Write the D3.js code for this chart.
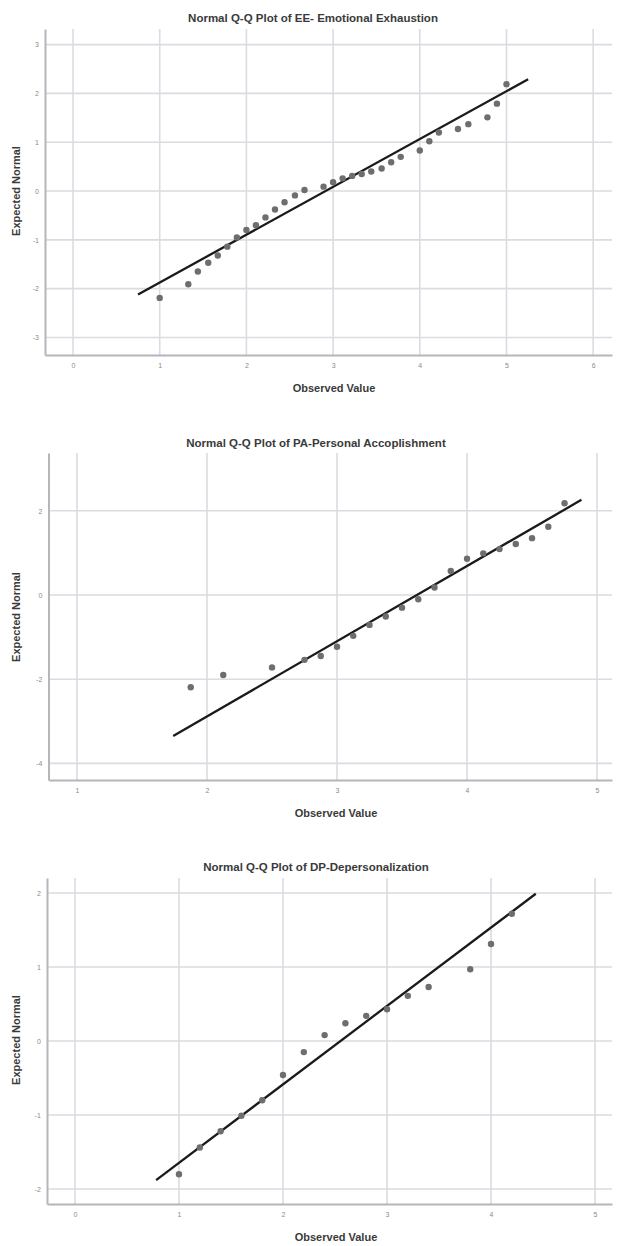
<!DOCTYPE html>
<html>
<head>
<meta charset="utf-8">
<script src="https://cdn.jsdelivr.net/npm/d3@7"></script>
<style>
  html, body { margin: 0; padding: 0; background: #ffffff; }
  svg { display: block; }
</style>
</head>
<body>
<svg id="chart" width="618" height="1246"></svg>
<script>
// ---------- DATA ----------
const titles = [
  "Normal Q-Q Plot of EE- Emotional Exhaustion",
  "Normal Q-Q Plot of PA-Personal Accoplishment",
  "Normal Q-Q Plot of DP-Depersonalization"
];
const xAxisTitle = "Observed Value";
const yAxisTitle = "Expected Normal";

// EE - Emotional Exhaustion
const eeObserved = [1.00, 1.33, 1.44, 1.56, 1.67, 1.78, 1.89, 2.00, 2.11, 2.22, 2.33, 2.44, 2.56, 2.67,
                    2.89, 3.00, 3.11, 3.22, 3.33, 3.44, 3.56, 3.67, 3.78, 4.00, 4.11, 4.22, 4.44, 4.56,
                    4.78, 4.89, 5.00];
const eeExpected = [-2.19, -1.91, -1.65, -1.47, -1.32, -1.14, -0.95, -0.80, -0.70, -0.54, -0.38, -0.23, -0.09, 0.02,
                    0.09, 0.18, 0.26, 0.31, 0.35, 0.40, 0.46, 0.59, 0.70, 0.83, 1.02, 1.20, 1.27, 1.37,
                    1.51, 1.79, 2.19];
const eeLineX = [0.75, 5.25];
const eeLineY = [-2.12, 2.29];
const eeXTicks = [0, 1, 2, 3, 4, 5, 6];
const eeYTicks = [-3, -2, -1, 0, 1, 2, 3];

// PA - Personal Accomplishment
const paObserved = [1.875, 2.125, 2.5, 2.75, 2.875, 3.0, 3.125, 3.25, 3.375, 3.5, 3.625, 3.75, 3.875, 4.0,
                    4.125, 4.25, 4.375, 4.5, 4.625, 4.75];
const paExpected = [-2.19, -1.90, -1.72, -1.54, -1.45, -1.23, -0.97, -0.71, -0.51, -0.30, -0.10, 0.18, 0.57, 0.86,
                    0.99, 1.09, 1.21, 1.35, 1.62, 2.18];
const paLineX = [1.74, 4.88];
const paLineY = [-3.35, 2.26];
const paXTicks = [1, 2, 3, 4, 5];
const paYTicks = [-4, -2, 0, 2];

// DP - Depersonalization
const dpObserved = [1.0, 1.2, 1.4, 1.6, 1.8, 2.0, 2.2, 2.4, 2.6, 2.8, 3.0, 3.2, 3.4, 3.8, 4.0, 4.2];
const dpExpected = [-1.80, -1.44, -1.22, -1.01, -0.80, -0.46, -0.15, 0.08, 0.24, 0.34, 0.43, 0.61, 0.73, 0.97, 1.31, 1.72];
const dpLineX = [0.78, 4.43];
const dpLineY = [-1.88, 1.99];
const dpXTicks = [0, 1, 2, 3, 4, 5];
const dpYTicks = [-2, -1, 0, 1, 2];

// ---------- LAYOUT ----------
const panels = [
  { title: titles[0], obs: eeObserved, exp: eeExpected, lx: eeLineX, ly: eeLineY, xt: eeXTicks, yt: eeYTicks,
    left: 45, right: 612, top: 29, bottom: 355, xd: [-0.323, 6.217], yd: [-3.36, 3.32],
    titleX: 313, titleY: 22, xtX: 334, xtY: 392, ytX: 16, ytY: 191 },
  { title: titles[1], obs: paObserved, exp: paExpected, lx: paLineX, ly: paLineY, xt: paXTicks, yt: paYTicks,
    left: 48.5, right: 612, top: 453, bottom: 780, xd: [0.781, 5.115], yd: [-4.394, 3.373],
    titleX: 316, titleY: 447, xtX: 336, xtY: 817, ytX: 16, ytY: 617 },
  { title: titles[2], obs: dpObserved, exp: dpExpected, lx: dpLineX, ly: dpLineY, xt: dpXTicks, yt: dpYTicks,
    left: 47, right: 612, top: 878, bottom: 1204, xd: [-0.269, 5.163], yd: [-2.203, 2.203],
    titleX: 316, titleY: 871, xtX: 336, xtY: 1241, ytX: 16, ytY: 1040 }
];

const svg = d3.select("#chart");
const FONT = "'Liberation Sans', Arial, sans-serif";
const gridColor = "#d9dce1";
const axisColor = "#b4b6ba";

panels.forEach(p => {
  const x = d3.scaleLinear().domain(p.xd).range([p.left, p.right]);
  const y = d3.scaleLinear().domain(p.yd).range([p.bottom, p.top]);
  const g = svg.append("g");

  // horizontal gridlines
  g.selectAll("line.hg").data(p.yt).enter().append("line")
    .attr("x1", p.left).attr("x2", p.right)
    .attr("y1", d => y(d)).attr("y2", d => y(d))
    .attr("stroke", gridColor).attr("stroke-width", 1.6);
  // vertical gridlines
  g.selectAll("line.vg").data(p.xt).enter().append("line")
    .attr("x1", d => x(d)).attr("x2", d => x(d))
    .attr("y1", p.top).attr("y2", p.bottom)
    .attr("stroke", gridColor).attr("stroke-width", 1.6);

  // axes via d3 axis generators
  const xAxis = d3.axisBottom(x).tickValues(p.xt).tickSize(0).tickPadding(8).tickFormat(d => String(d));
  const yAxis = d3.axisLeft(y).tickValues(p.yt).tickSize(0).tickPadding(6).tickFormat(d => String(d));
  const gx = g.append("g").attr("transform", `translate(0,${p.bottom})`).call(xAxis);
  const gy = g.append("g").attr("transform", `translate(${p.left},0)`).call(yAxis);
  [gx, gy].forEach(a => {
    a.select(".domain").attr("stroke", axisColor).attr("stroke-width", 2);
    a.selectAll("text").attr("font-family", FONT).attr("font-size", 7).attr("fill", "#8a8a8a");
  });

  // reference line
  const lineData = p.lx.map((v, i) => [v, p.ly[i]]);
  g.append("path").datum(lineData)
    .attr("d", d3.line().x(d => x(d[0])).y(d => y(d[1])))
    .attr("stroke", "#1a1a1a").attr("stroke-width", 2.3).attr("fill", "none");

  // points
  const pts = p.obs.map((v, i) => [v, p.exp[i]]);
  g.selectAll("circle").data(pts).enter().append("circle")
    .attr("cx", d => x(d[0])).attr("cy", d => y(d[1]))
    .attr("r", 3.2).attr("fill", "#6e6e6e");

  // titles
  g.append("text").attr("x", p.titleX).attr("y", p.titleY).attr("text-anchor", "middle")
    .attr("font-family", FONT).attr("font-weight", "bold").attr("font-size", 11.5).attr("fill", "#3a3a3a")
    .text(p.title);
  g.append("text").attr("x", p.xtX).attr("y", p.xtY).attr("text-anchor", "middle")
    .attr("font-family", FONT).attr("font-weight", "bold").attr("font-size", 11).attr("fill", "#3a3a3a")
    .text(xAxisTitle);
  g.append("text").attr("transform", `translate(${p.ytX + 4},${p.ytY}) rotate(-90)`).attr("text-anchor", "middle")
    .attr("font-family", FONT).attr("font-weight", "bold").attr("font-size", 11).attr("fill", "#3a3a3a")
    .text(yAxisTitle);
});
</script>
</body>
</html>
